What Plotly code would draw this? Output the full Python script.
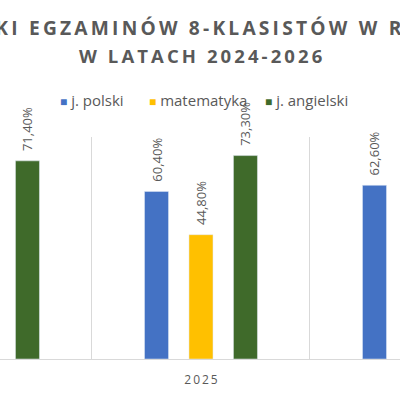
import plotly.graph_objects as go

years = ["2024", "2025", "2026"]
series_names = ["j. polski", "matematyka", "j. angielski"]
# values in %, None = not visible in the cropped view
polski = [None, 60.4, 62.6]
matematyka = [None, 44.8, None]
angielski = [71.4, 73.3, None]
colors = ["#4472C4", "#FFC000", "#3F6A2A"]

title_line1 = "WYNIKI EGZAMINÓW 8-KLASISTÓW W RP"
title_line2 = "W LATACH 2024-2026"

def spaced(s, sep="\u2006"):
    return sep.join(list(s))

gray = "#595959"
x_range = [0.078, 1.913]

fig = go.Figure()
for name, vals, col in zip(series_names, [polski, matematyka, angielski], colors):
    fig.add_trace(go.Bar(
        x=years, y=vals, name=name, marker_color=col, showlegend=False,
        texttemplate="\u00a0\u00a0%{y:.2f}%", textposition="outside",
        textangle=-90, cliponaxis=False, constraintext="none",
        textfont=dict(family="Open Sans", size=13, color=gray),
    ))

# manual legend (paper coordinates, layout only)
legend_x = [0.145, 0.367, 0.657]
extra_ann = []
for name, col, lx in zip(series_names, colors, legend_x):
    extra_ann.append(dict(
        text=f"<span style='color:{col};font-size:12px'>■</span> {name}",
        xref="paper", yref="paper", x=lx, y=1.167, xanchor="left", yanchor="middle",
        showarrow=False, font=dict(family="Open Sans", size=15, color=gray)))

# category labels that fall just outside the visible (cropped) axis range
for i in (0, len(years) - 1):
    extra_ann.append(dict(
        text=spaced(years[i], "\u2009"), xref="paper", yref="paper",
        x=(i - x_range[0]) / (x_range[1] - x_range[0]), y=-0.09,
        xanchor="center", yanchor="middle", showarrow=False,
        font=dict(family="Open Sans", size=12, color=gray)))

fig.update_layout(
    width=400, height=400,
    margin=dict(l=0, r=0, t=137, b=41),
    paper_bgcolor="white", plot_bgcolor="white",
    barmode="group", bargap=0.388, bargroupgap=0.46,
    separators=", ",
    xaxis=dict(type="category", range=x_range, tickson="boundaries",
               showgrid=True, gridcolor="#D9D9D9", gridwidth=1,
               showline=True, linecolor="#D9D9D9", linewidth=1,
               ticks="", tickvals=years, ticktext=[spaced(y, "\u2009") for y in years],
               ticklabelstandoff=10,
               tickfont=dict(family="Open Sans", size=12, color=gray)),
    yaxis=dict(range=[0, 80], visible=False, showgrid=False),
    annotations=[
        dict(text=spaced(title_line1), xref="paper", yref="paper", x=0.5, y=1.491,
             xanchor="center", yanchor="middle", showarrow=False, xshift=-27,
             font=dict(family="Open Sans", size=19.2, color=gray, weight="bold")),
        dict(text=spaced(title_line2), xref="paper", yref="paper", x=0.5, y=1.365,
             xanchor="center", yanchor="middle", showarrow=False,
             font=dict(family="Open Sans", size=18.5, color=gray, weight="bold")),
    ] + extra_ann,
)

fig.write_html("out.html")
